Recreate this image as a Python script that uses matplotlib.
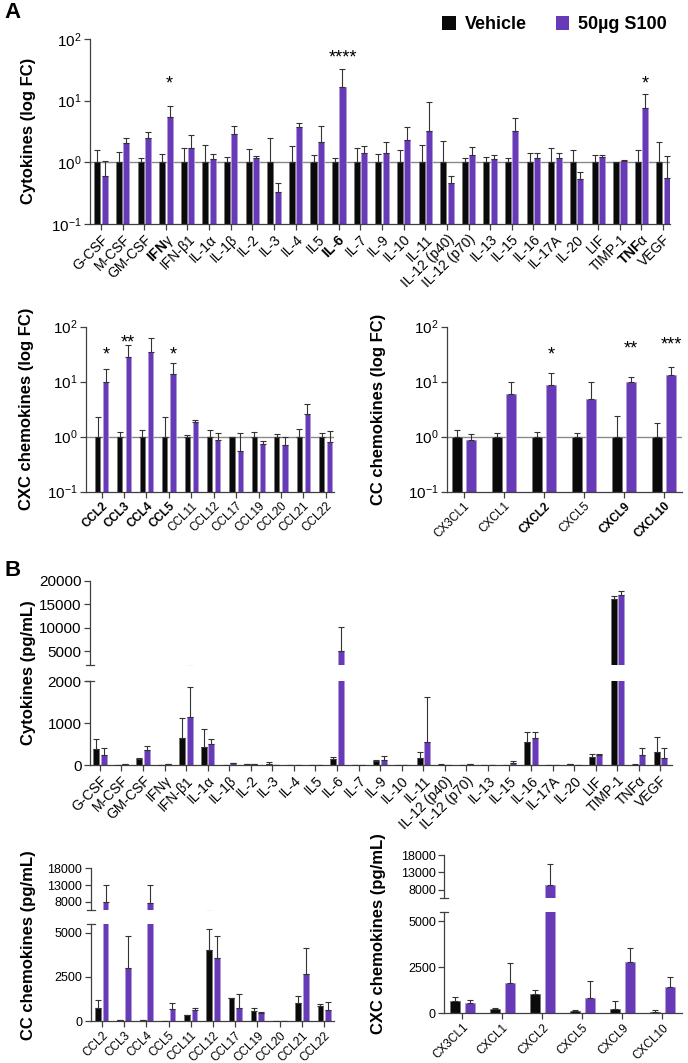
import matplotlib
matplotlib.use('Agg')
import matplotlib.pyplot as plt
import numpy as np
from matplotlib.patches import Patch
from matplotlib.ticker import NullLocator

plt.rcParams['font.family'] = ['Liberation Sans', 'DejaVu Sans']
plt.rcParams['mathtext.fontset'] = 'custom'
plt.rcParams['mathtext.rm'] = 'Liberation Sans'
plt.rcParams['mathtext.it'] = 'Liberation Sans:italic'
plt.rcParams['mathtext.bf'] = 'Liberation Sans:bold'

W, H = 688, 1063
VEH = '#0a0a0a'
S100 = '#673ab7'
AXC = '#404040'

# ---------------- data ----------------
cyto_labels = ['G-CSF', 'M-CSF', 'GM-CSF', 'IFNγ', 'IFN-β1', 'IL-1α', 'IL-1β', 'IL-2', 'IL-3',
               'IL-4', 'IL5', 'IL-6', 'IL-7', 'IL-9', 'IL-10', 'IL-11', 'IL-12 (p40)',
               'IL-12 (p70)', 'IL-13', 'IL-15', 'IL-16', 'IL-17A', 'IL-20', 'LIF', 'TIMP-1',
               'TNFα', 'VEGF']
cyto_labels_A = ['G-CSF', 'M-CSF', 'GM-CSF', r'$\mathbf{IFN}$γ', 'IFN-β1', 'IL-1α', 'IL-1β', 'IL-2',
                 'IL-3', 'IL-4', 'IL5', r'$\mathbf{IL\text{-}6}$', 'IL-7', 'IL-9', 'IL-10', 'IL-11',
                 'IL-12 (p40)', 'IL-12 (p70)', 'IL-13', 'IL-15', 'IL-16', 'IL-17A', 'IL-20', 'LIF',
                 'TIMP-1', r'$\mathbf{TNF}$α', 'VEGF']

# fold change (vehicle normalised to 1)
cyto_fc_veh = [1.0] * 27
cyto_fc_veh_sd = [0.6, 0.49, 0.16, 0.38, 0.69, 0.9, 0.2, 0.67, 1.5, 0.84, 0.3, 0.18, 0.69, 0.38,
                  0.6, 0.9, 1.19, 0.16, 0.2, 0.16, 0.4, 0.7, 0.57, 0.3, 0.02, 0.58, 1.14]
cyto_fc_s100 = [0.6, 2.03, 2.5, 5.43, 1.73, 1.12, 2.88, 1.18, 0.33, 3.74, 2.14, 16.9, 1.44, 1.42,
                2.3, 3.26, 0.47, 1.31, 1.12, 3.18, 1.18, 1.18, 0.54, 1.22, 1.05, 7.5, 0.56]
cyto_fc_s100_sd = [0.44, 0.47, 0.56, 2.67, 1.08, 0.26, 1.05, 0.10, 0.13, 0.66, 1.7, 15.3, 0.40,
                   0.74, 1.49, 6.3, 0.14, 0.49, 0.21, 1.99, 0.22, 0.22, 0.17, 0.11, 0.03, 5.3, 0.72]
cyto_stars = {3: ('*', 23), 11: ('****', 59), 25: ('*', 22.6)}

ccl_labels = ['CCL2', 'CCL3', 'CCL4', 'CCL5', 'CCL11', 'CCL12', 'CCL17', 'CCL19', 'CCL20',
              'CCL21', 'CCL22']
ccl_bold = ['CCL2', 'CCL3', 'CCL4', 'CCL5']
ccl_fc_veh = [1.0] * 11
ccl_fc_veh_sd = [1.28, 0.2, 0.3, 1.28, 0.07, 0.3, 0.0, 0.22, 0.1, 0.36, 0.15]
ccl_fc_s100 = [10, 28, 34.7, 13.8, 1.85, 0.87, 0.56, 0.74, 0.705, 2.55, 0.79]
ccl_fc_s100_sd = [7, 18, 27, 7.7, 0.19, 0.31, 0.59, 0.08, 0.3, 1.32, 0.48]
ccl_stars = {0: ('*', 38.8), 1: ('**', 62), 2: ('****', 112), 3: ('*', 38.8)}

cxcl_labels = ['CX3CL1', 'CXCL1', 'CXCL2', 'CXCL5', 'CXCL9', 'CXCL10']
cxcl_bold = ['CXCL2', 'CXCL9', 'CXCL10']
cxcl_fc_veh = [1.0] * 6
cxcl_fc_veh_sd = [0.32, 0.15, 0.2, 0.15, 1.41, 0.77]
cxcl_fc_s100 = [0.87, 5.97, 8.58, 4.77, 9.86, 13.4]
cxcl_fc_s100_sd = [0.23, 4.1, 5.6, 5.3, 2.4, 4.9]
cxcl_stars = {2: ('*', 38.8), 4: ('**', 48), 5: ('***', 59)}

# concentrations (pg/mL)
cyto_pg_veh = [389, 10, 150, 3, 659, 444, 12, 20, 22, 2, 2, 150, 3, 95, 3, 167, 15, 10, 2, 5,
               556, 1, 20, 198, 16170, 18, 310]
cyto_pg_veh_sd = [246, 6, 33, 2, 460, 413, 5, 10, 65, 1, 1, 40, 1, 40, 1, 158, 10, 4, 1, 3,
                  230, 1, 6, 64, 570, 6, 365]
cyto_pg_s100 = [238, 20, 365, 20, 1159, 508, 55, 22, 6, 4, 6, 5000, 4, 135, 12, 556, 6, 20, 2,
                48, 651, 1, 10, 246, 16960, 238, 183]
cyto_pg_s100_sd = [175, 6, 87, 5, 714, 119, 10, 6, 2, 2, 2, 5200, 2, 79, 4, 1063, 3, 5, 1, 47,
                   135, 1, 4, 32, 840, 167, 230]

ccl_pg_veh = [733, 80, 60, 30, 338, 4004, 1316, 583, 0, 1034, 846]
ccl_pg_veh_sd = [451, 20, 15, 10, 20, 1202, 0, 188, 0, 413, 150]
ccl_pg_s100 = [7950, 2989, 7600, 677, 639, 3590, 733, 451, 0, 2669, 658]
ccl_pg_s100_sd = [4950, 1841, 5300, 376, 94, 1203, 790, 57, 0, 1466, 432]

cxcl_pg_veh = [652, 235, 1069, 145, 254, 72]
cxcl_pg_veh_sd = [254, 37, 181, 36, 398, 91]
cxcl_pg_s100 = [580, 1630, 9415, 833, 2772, 1431]
cxcl_pg_s100_sd = [163, 1124, 5945, 942, 761, 526]


# ---------------- helpers ----------------
def box(l, r, t, b):
    return [l / W, 1 - b / H, (r - l) / W, (b - t) / H]


def style(ax, bottom=True):
    for s in ['top', 'right']:
        ax.spines[s].set_visible(False)
    ax.spines['left'].set_color(AXC)
    ax.spines['bottom'].set_color(AXC)
    ax.spines['left'].set_linewidth(0.9)
    ax.spines['bottom'].set_linewidth(0.9)
    ax.tick_params(direction='out', length=4, width=0.9, color=AXC, pad=2)
    if not bottom:
        ax.spines['bottom'].set_visible(False)
        ax.tick_params(axis='x', bottom=False, labelbottom=False)


def bars(ax, mv, sv, ms, ss, w, off, base=0.0):
    x = np.arange(len(mv))
    for xs, m, sd, col, ec in ((x - off, mv, sv, VEH, '#777777'),
                               (x + off, ms, ss, S100, '#b09ad8')):
        m = np.asarray(m, float)
        sd = np.asarray(sd, float)
        ax.bar(xs, m - base, w, bottom=base, color=col, edgecolor=ec, linewidth=0.6, zorder=2)
        ax.errorbar(xs, m, yerr=[np.zeros_like(m), sd], fmt='none', ecolor='#333333',
                    elinewidth=0.8, capsize=2.5, capthick=0.8, zorder=3)


def xlabels(ax, labels, size, bold=()):
    ax.set_xticks(np.arange(len(labels)))
    ax.set_xticklabels(labels, rotation=45, ha='right', rotation_mode='anchor', fontsize=size)
    for t in ax.get_xticklabels():
        if t.get_text() in bold:
            t.set_fontweight('bold')


def logpanel(ax, labels, mv, sv, ms, ss, w, off, xl, size, bold=(), stars=None):
    ax.set_yscale('log')
    bars(ax, mv, sv, ms, ss, w, off, base=0.1)
    ax.axhline(1, color='#8a8a8a', lw=1, zorder=1)
    ax.set_ylim(0.1, 100)
    ax.set_xlim(*xl)
    ax.yaxis.set_minor_locator(NullLocator())
    ax.set_yticks([0.1, 1, 10, 100])
    style(ax)
    ax.tick_params(axis='y', labelsize=11)
    xlabels(ax, labels, size, bold)
    for i, (s, y) in (stars or {}).items():
        ax.annotate(s, xy=(i + off, y), xytext=(0, -7), textcoords='offset points',
                    ha='center', va='baseline', fontsize=13, clip_on=False)


def brk(ax, y):
    wpx = ax.get_position().width * W
    ax.plot([-4 / wpx, 4 / wpx], [y, y], transform=ax.transAxes, color=AXC, lw=0.9,
            clip_on=False)


def brokenpanel(up, lo, labels, mv, sv, ms, ss, w, off, xl, ylo, yup, tlo, tup, size, ysize):
    for ax in (up, lo):
        bars(ax, mv, sv, ms, ss, w, off)
        ax.set_xlim(*xl)
    lo.set_ylim(*ylo)
    up.set_ylim(*yup)
    lo.set_yticks(tlo)
    up.set_yticks(tup)
    style(lo)
    style(up, bottom=False)
    for ax in (up, lo):
        ax.tick_params(axis='y', labelsize=ysize)
    xlabels(lo, labels, size)
    brk(up, 0)
    brk(lo, 1)


fig = plt.figure(figsize=(W / 100, H / 100), dpi=100)

# ---------------- panel A ----------------
axA = fig.add_axes(box(90, 670, 39, 224))
logpanel(axA, cyto_labels_A, cyto_fc_veh, cyto_fc_veh_sd, cyto_fc_s100, cyto_fc_s100_sd,
         0.28, 0.17, (-0.51, 26.32), 10, stars=cyto_stars)

axC1 = fig.add_axes(box(86, 334, 326.7, 491.7))
logpanel(axC1, ccl_labels, ccl_fc_veh, ccl_fc_veh_sd, ccl_fc_s100, ccl_fc_s100_sd,
         0.23, 0.186, (-0.70, 10.37), 8.5, bold=ccl_bold, stars=ccl_stars)

axC2 = fig.add_axes(box(446.7, 682, 326.7, 491.7))
logpanel(axC2, cxcl_labels, cxcl_fc_veh, cxcl_fc_veh_sd, cxcl_fc_s100, cxcl_fc_s100_sd,
         0.25, 0.18, (-0.43, 5.45), 8.5, bold=cxcl_bold, stars=cxcl_stars)

# ---------------- panel B ----------------
bu = fig.add_axes(box(90, 672, 581, 665.3))
bl = fig.add_axes(box(90, 672, 681.3, 765.3))
brokenpanel(bu, bl, cyto_labels, cyto_pg_veh, cyto_pg_veh_sd, cyto_pg_s100, cyto_pg_s100_sd,
            0.28, 0.17, (-0.46, 26.54), (0, 2000), (2000, 20000),
            [0, 1000, 2000], [5000, 10000, 15000, 20000], 10, 11)

cu = fig.add_axes(box(90.7, 334, 868.3, 910.3))
cl = fig.add_axes(box(90.7, 334, 923.7, 1021.3))
brokenpanel(cu, cl, ccl_labels, ccl_pg_veh, ccl_pg_veh_sd, ccl_pg_s100, ccl_pg_s100_sd,
            0.25, 0.17, (-0.5, 10.44), (0, 5500), (5500, 18000),
            [0, 2500, 5000], [8000, 13000, 18000], 8.5, 9)

du = fig.add_axes(box(444.3, 682, 855, 898.3))
dl = fig.add_axes(box(444.3, 682, 912.3, 1013.3))
brokenpanel(du, dl, cxcl_labels, cxcl_pg_veh, cxcl_pg_veh_sd, cxcl_pg_s100, cxcl_pg_s100_sd,
            0.25, 0.19, (-0.45, 5.49), (0, 5500), (5500, 18000),
            [0, 2500, 5000], [8000, 13000, 18000], 8.5, 9)

# ---------------- labels ----------------
def ylab(x, y, s):
    fig.text(x / W, 1 - y / H, s, rotation=90, ha='center', va='center',
             fontsize=12, fontweight='bold')


ylab(28, 131, 'Cytokines (log FC)')
ylab(27, 409, 'CXC chemokines (log FC)')
ylab(378, 409, 'CC chemokines (log FC)')
ylab(28, 673, 'Cytokines (pg/mL)')
ylab(28, 945, 'CC chemokines (pg/mL)')
ylab(378, 934, 'CXC chemokines (pg/mL)')

fig.text(4 / W, 1 - 2 / H, 'A', fontsize=16, fontweight='bold', va='top', ha='left')
fig.text(4 / W, 1 - 560 / H, 'B', fontsize=16, fontweight='bold', va='top', ha='left')

fig.legend(handles=[Patch(facecolor=VEH, label='Vehicle'), Patch(facecolor=S100, label='50µg S100')],
           loc='upper right', bbox_to_anchor=(0.993, 1.0), ncol=2, frameon=False,
           prop={'weight': 'bold', 'size': 13}, handlelength=0.75, handleheight=0.75,
           columnspacing=1.6, handletextpad=0.5)

fig.savefig('out.png', dpi=100)
